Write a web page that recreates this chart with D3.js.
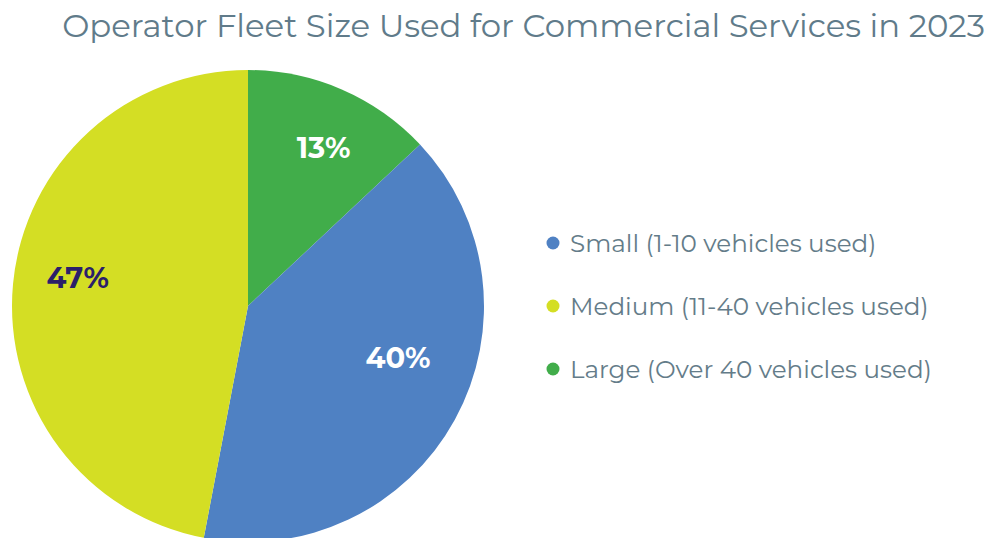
<!DOCTYPE html>
<html>
<head>
<meta charset="utf-8">
<script src="https://cdn.jsdelivr.net/npm/d3@7"></script>
<style>
  html, body { margin: 0; padding: 0; background: #ffffff; }
  svg { display: block; }
</style>
</head>
<body>
<svg id="chart" width="988" height="538"></svg>
<script>
// Fleet size shares, in drawing order (clockwise from 12 o'clock)
const categories = ["Large (Over 40 vehicles used)", "Small (1-10 vehicles used)", "Medium (11-40 vehicles used)"];
const shares = [13, 40, 47];
const sliceColors = ["#41ad4a", "#4f81c3", "#d4de24"];
const labelColors = ["#ffffff", "#ffffff", "#2b1f6a"];

// Legend order
const legendOrder = ["Small (1-10 vehicles used)", "Medium (11-40 vehicles used)", "Large (Over 40 vehicles used)"];

const title = "Operator Fleet Size Used for Commercial Services in 2023";

const svg = d3.select("#chart");
const cx = 248, cy = 306, R = 236;
const FONT = "Montserrat, 'Open Sans', sans-serif";

// Title, sized to span the top band
const titleText = svg.append("text")
  .attr("x", 985).attr("y", 37)
  .attr("text-anchor", "end")
  .attr("font-family", FONT)
  .attr("font-weight", 400)
  .attr("font-size", 30)
  .attr("fill", "#607b8a")
  .text(title);
const tw = titleText.node().getComputedTextLength();
titleText.attr("font-size", 30 * 923 / tw);

const color = d3.scaleOrdinal().domain(categories).range(sliceColors);
const textColor = d3.scaleOrdinal().domain(categories).range(labelColors);

const data = categories.map((c, i) => ({ name: c, value: shares[i] }));

const pie = d3.pie().sort(null).value(d => d.value);
const arc = d3.arc().innerRadius(0).outerRadius(R);
const labelArc = d3.arc().innerRadius(170).outerRadius(170);

const g = svg.append("g").attr("transform", `translate(${cx},${cy})`);
const arcs = pie(data);

g.selectAll("path.slice")
  .data(arcs)
  .join("path")
  .attr("class", "slice")
  .attr("d", arc)
  .attr("fill", d => color(d.data.name));

// Label nudges per slice, in pixels
const nudge = { "Large (Over 40 vehicles used)": [8, -2], "Small (1-10 vehicles used)": [1, -30], "Medium (11-40 vehicles used)": [-1, -12] };

g.selectAll("text.pct")
  .data(arcs)
  .join("text")
  .attr("class", "pct")
  .attr("transform", d => {
    const [x, y] = labelArc.centroid(d);
    const [nx, ny] = nudge[d.data.name];
    return `translate(${x + nx},${y + ny})`;
  })
  .attr("text-anchor", "middle")
  .attr("dy", "0.36em")
  .attr("font-family", FONT)
  .attr("font-weight", 700)
  .attr("font-size", 29)
  .attr("fill", d => textColor(d.data.name))
  .text(d => d.data.value + "%");

// Legend
const legendY = d3.scalePoint().domain(legendOrder).range([243, 369]);
const legend = svg.append("g");
const items = legend.selectAll("g")
  .data(legendOrder)
  .join("g")
  .attr("transform", d => `translate(553,${legendY(d)})`);
items.append("circle")
  .attr("r", 6.5)
  .attr("fill", d => color(d));
const legendText = items.append("text")
  .attr("x", 17)
  .attr("dy", "0.36em")
  .attr("font-family", FONT)
  .attr("font-size", 21)
  .attr("fill", "#647c89")
  .text(d => d);
// Fit the longest entry to the legend column width
const lw = d3.max(legendText.nodes(), n => n.getComputedTextLength());
legendText.attr("font-size", 21 * 362 / lw);
</script>
</body>
</html>
